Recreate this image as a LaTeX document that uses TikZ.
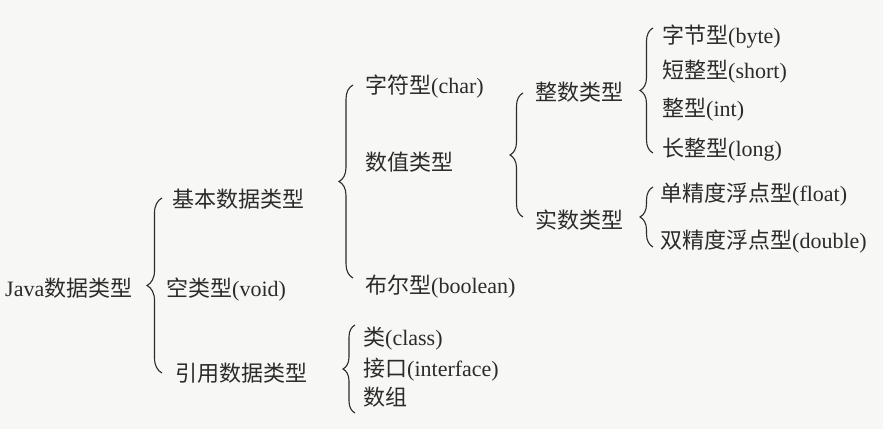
\documentclass[tikz,border=0pt]{standalone}
\usepackage{fontspec}
\setmainfont{Liberation Serif}
\newfontfamily\cjkfont{Noto Sans CJK SC}
\newcommand\cj[1]{{\cjkfont #1}}
\usetikzlibrary{decorations.pathreplacing}
\definecolor{ink}{HTML}{2B2B2B}
\definecolor{paper}{HTML}{F7F7F5}
\tikzset{
  lbl/.style={anchor=west, inner sep=0pt, text=ink, text height=17pt, text depth=0pt,
    font=\fontsize{22}{26}\selectfont},
  brc/.style={draw=ink, line width=1.1pt, decorate,
    decoration={brace, amplitude=#1}},
}
\begin{document}
\begin{tikzpicture}[x=1pt,y=-1pt]
\fill[paper] (0,0) rectangle (883,429);
\useasboundingbox (0,0) rectangle (883,429);
% level 0
\node[lbl] (java) at (5,288) {Java\cj{数据类型}};
% level 1
\node[lbl] (basic) at (172,199) {\cj{基本数据类型}};
\node[lbl] (void) at (166,288) {\cj{空类型}(void)};
\node[lbl] (ref) at (175,373) {\cj{引用数据类型}};
% level 2 (basic)
\node[lbl] (char) at (365,85) {\cj{字符型}(char)};
\node[lbl] (num) at (365,162) {\cj{数值类型}};
\node[lbl] (bool) at (365,285) {\cj{布尔型}(boolean)};
% level 3 (numeric)
\node[lbl] (int) at (535,92) {\cj{整数类型}};
\node[lbl] (real) at (535,220) {\cj{实数类型}};
% level 4 (integer)
\node[lbl] (byte) at (662,35) {\cj{字节型}(byte)};
\node[lbl] (short) at (662,70) {\cj{短整型}(short)};
\node[lbl] (intt) at (662,108) {\cj{整型}(int)};
\node[lbl] (long) at (662,148) {\cj{长整型}(long)};
% level 4 (real)
\node[lbl] (float) at (660,193) {\cj{单精度浮点型}(float)};
\node[lbl] (double) at (660,240) {\cj{双精度浮点型}(double)};
% level 2 (reference)
\node[lbl] (class) at (363,337) {\cj{类}(class)};
\node[lbl] (iface) at (363,368) {\cj{接口}(interface)};
\node[lbl] (arr) at (363,397) {\cj{数组}};
% braces
\draw[brc=15pt] (162,373) -- (162,198);
\draw[brc=14pt] (353,278) -- (353,85);
\draw[brc=13pt] (523,217) -- (523,93);
\draw[brc=13pt] (653,153) -- (653,28);
\draw[brc=13pt] (653,247) -- (653,187);
\draw[brc=12pt] (355,413) -- (355,325);
\end{tikzpicture}
\end{document}
